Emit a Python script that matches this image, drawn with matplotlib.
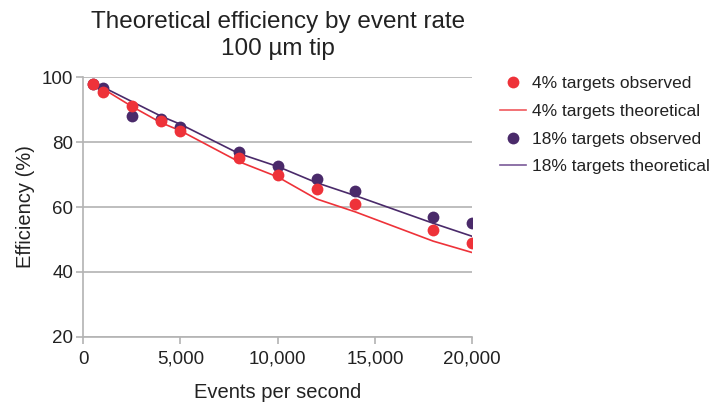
import matplotlib.pyplot as plt
from matplotlib.ticker import FuncFormatter

plt.rcParams['font.family'] = ['Liberation Sans', 'DejaVu Sans']

# events per second
rate = [500, 1000, 2500, 4000, 5000, 8000, 10000, 12000, 14000, 18000, 20000]

obs_4 = [98, 95.5, 91, 86.5, 83.5, 75, 70, 65.5, 61, 53, 49]
theo_4 = [98.5, 96.5, 91, 86, 83.5, 74, 69.3, 62.5, 58.5, 49.5, 46]

obs_18 = [98, 96.8, 88, 87, 84.5, 77, 72.5, 68.5, 65, 57, 55]
theo_18 = [98.5, 97, 92.5, 88, 85.5, 76.5, 72.5, 67.5, 63.5, 55, 51]

red = '#ee3239'
purple = '#4a2a6a'
grid_c = '#b3b3b3'
text_c = '#222222'

fig = plt.figure(figsize=(7.23, 4.04), dpi=100)
ax = fig.add_axes([0.115, 0.166, 0.538, 0.643])

l_t18, = ax.plot(rate, theo_18, color=purple, lw=1.2, zorder=3)
l_t4, = ax.plot(rate, theo_4, color=red, lw=1.2, zorder=3)
l_o18, = ax.plot(rate, obs_18, 'o', color=purple, ms=8.5, mew=0, zorder=4)
l_o4, = ax.plot(rate, obs_4, 'o', color=red, ms=8.5, mew=0, zorder=5)

ax.set_xlim(0, 20000)
ax.set_ylim(20, 100)
ax.set_xticks([0, 5000, 10000, 15000, 20000])
ax.set_yticks([20, 40, 60, 80, 100])
ax.xaxis.set_major_formatter(FuncFormatter(lambda v, p: '{:,.0f}'.format(v)))
ax.yaxis.grid(True, color=grid_c, lw=1.2)
ax.set_axisbelow(True)
for s in ['top', 'right']:
    ax.spines[s].set_visible(False)
for s in ['left', 'bottom']:
    ax.spines[s].set_color(grid_c)
    ax.spines[s].set_linewidth(1.2)
ax.tick_params(colors=grid_c, labelcolor=text_c, labelsize=13.5, length=5, width=1.2)
ax.tick_params(axis='x', pad=5)
ax.tick_params(axis='y', pad=2)

ax.set_xlabel('Events per second', fontsize=14.5, color=text_c, labelpad=11)
ax.set_ylabel('Efficiency (%)', fontsize=14.5, color=text_c, labelpad=5)
ax.set_title('Theoretical efficiency by event rate\n100 µm tip', fontsize=17.5,
             color=text_c, linespacing=1.3, pad=16)

leg = fig.legend([l_o4, l_t4, l_o18, l_t18],
                 ['4% targets observed', '4% targets theoretical',
                  '18% targets observed', '18% targets theoretical'],
                 loc='upper left', bbox_to_anchor=(0.67, 0.85), frameon=False,
                 fontsize=12.5, handlelength=1.5, labelspacing=0.72, handletextpad=0.35)
for t in leg.get_texts():
    t.set_color(text_c)
leg.legend_handles[3].set_color('#7a5a98')
leg.legend_handles[1].set_color('#f0595e')

fig.savefig('out.png', dpi=100)
